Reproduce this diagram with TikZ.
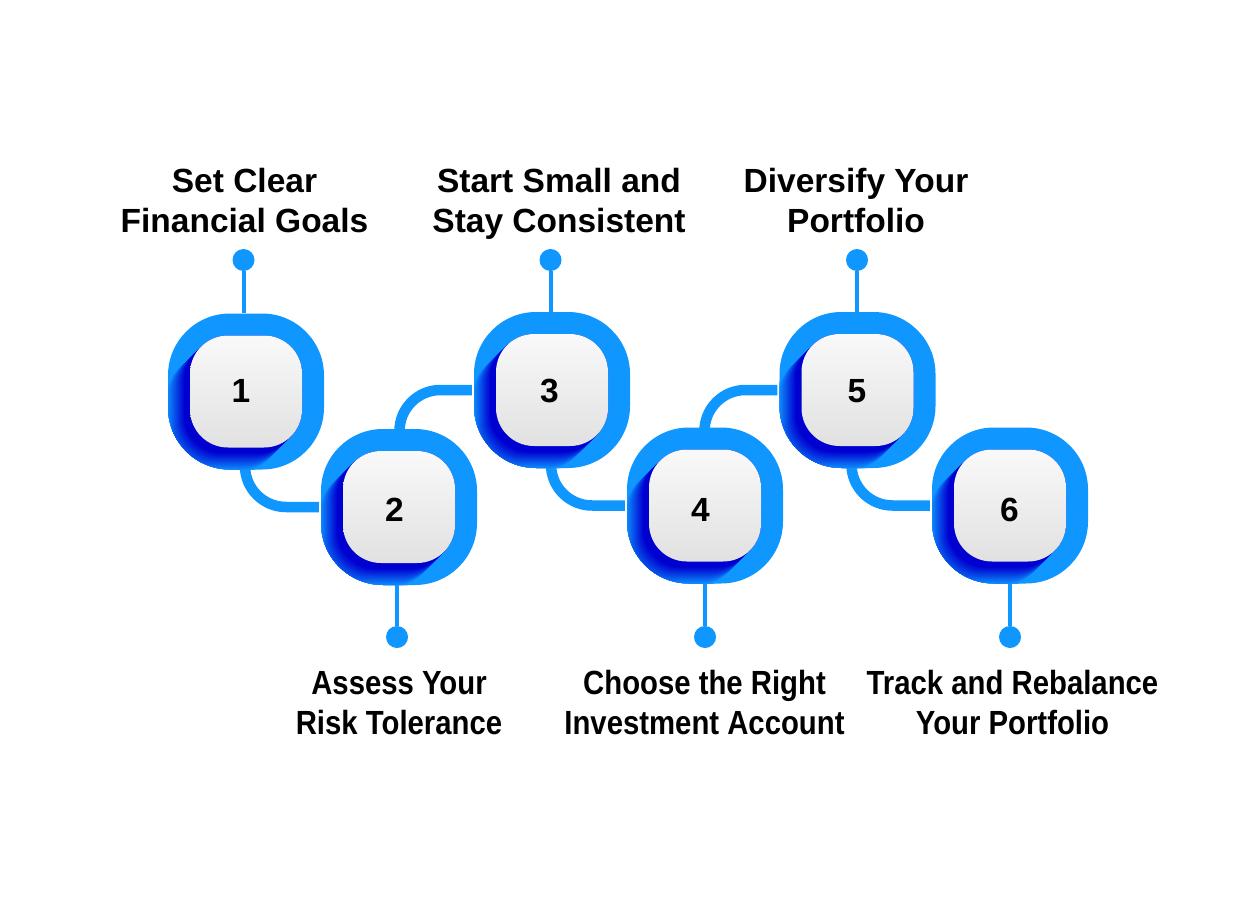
\documentclass[tikz,border=0pt]{standalone}
\usepackage{fontspec}
\setmainfont{Liberation Sans}
\newfontfamily\topfont{Liberation Sans Bold}
\newfontfamily\botfont{Liberation Sans Bold}[FakeStretch=0.875]
\definecolor{baseblue}{HTML}{0F96FF}
\definecolor{deepblue}{HTML}{0000D0}
\definecolor{tiletop}{HTML}{F9F9F9}
\definecolor{tilebot}{HTML}{E1E1E1}
\pgfdeclarelayer{back}
\pgfsetlayers{back,main}
\tikzset{
  x=1pt,y=-1pt,
  outerbox/.style={rectangle,minimum size=156pt,inner sep=0pt,rounded corners=62pt,fill=baseblue,
    path picture={
      \foreach \k in {26,25,...,0}{
        \pgfmathtruncatemacro{\p}{min(100,max(0,(24-\k)*100/18))}
        \fill[deepblue!\p!baseblue,rounded corners=38pt,shift={(path picture bounding box.center)}]
          (-56-\k,-56+\k) rectangle (56-\k,56+\k);
      }
    }},
  tile/.style={rectangle,minimum size=112pt,inner sep=0pt,rounded corners=38pt,
    shade,shading angle=-35,top color=tiletop,bottom color=tilebot},
  numtext/.style={font=\fontsize{33.5}{40}\selectfont\topfont,text=black,inner sep=0pt},
  toptext/.style={font=\fontsize{33.5}{40}\selectfont\topfont,text=black,align=center,inner sep=0pt},
  bottext/.style={font=\fontsize{33.5}{40}\selectfont\botfont,text=black,align=center,inner sep=0pt},
  link/.style={draw=baseblue,line width=10.5pt,rounded corners=41pt,shorten >=2pt},
  pin/.style={draw=baseblue,line width=4pt},
  pindot/.style={circle,fill=baseblue,minimum size=22pt,inner sep=0pt},
}
\newcommand{\stepunit}[6]{%
  \node[outerbox] (o#1) at (#2,#3) {};
  \node[tile] (t#1) at (#2,#3) {};
  \node[numtext] (n#1) at (#5,#6) {#4};
}
\begin{document}
\begin{tikzpicture}
\useasboundingbox (0,0) rectangle (1260,904);

\node[pindot] (d1) at (243.5,260) {};
\node[pindot] (d2) at (397,637) {};
\node[pindot] (d3) at (550.5,260) {};
\node[pindot] (d4) at (705,637) {};
\node[pindot] (d5) at (857,260) {};
\node[pindot] (d6) at (1010,637) {};

\coordinate (a1) at (245,465);
\coordinate (a2) at (399.5,433);
\coordinate (a3) at (551,464);
\coordinate (a4) at (704.5,432);
\coordinate (a5) at (851.5,464);

\stepunit{1}{246}{391.5}{1}{241}{391}
\stepunit{2}{399}{507}{2}{394.5}{510}
\stepunit{3}{552}{390}{3}{549.5}{391}
\stepunit{4}{705}{505.5}{4}{700.5}{509.5}
\stepunit{5}{857.5}{390}{5}{857}{391}
\stepunit{6}{1010}{505.5}{6}{1009.5}{509.5}

\begin{pgfonlayer}{back}
\fill[white] (0,0) rectangle (1260,904);
\draw[pin] (d1) -- (d1 |- o1.north);
\draw[pin] (d2) -- (d2 |- o2.south);
\draw[pin] (d3) -- (d3 |- o3.north);
\draw[pin] (d4) -- (d4 |- o4.south);
\draw[pin] (d5) -- (d5 |- o5.north);
\draw[pin] (d6) -- (d6 |- o6.south);

\draw[link] (a1) |- (o2.west);
\draw[link] (a2) |- (o3.west);
\draw[link] (a3) |- (o4.west);
\draw[link] (a4) |- (o5.west);
\draw[link] (a5) |- (o6.west);
\end{pgfonlayer}

\node[toptext] (l1) at (244.5,205) {\strut Set Clear\\Financial Goals\strut};
\node[bottext] (l2) at (399,706) {\strut Assess Your\\Risk Tolerance\strut};
\node[toptext] (l3) at (559,205) {\strut Start Small and\\Stay Consistent\strut};
\node[bottext] (l4) at (704.5,706) {\strut Choose the Right\\Investment Account\strut};
\node[toptext] (l5) at (856,205) {\strut Diversify Your\\Portfolio\strut};
\node[bottext] (l6) at (1012.5,706) {\strut Track and Rebalance\\Your Portfolio\strut};
\end{tikzpicture}
\end{document}
